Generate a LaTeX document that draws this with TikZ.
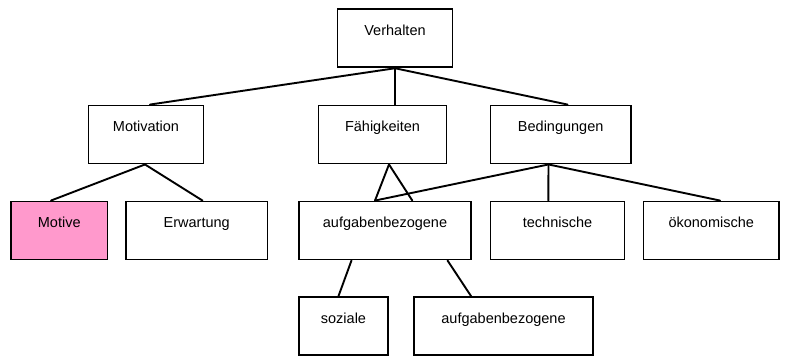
\documentclass[tikz,border=0pt]{standalone}
\usepackage{fontspec}
\setmainfont{Liberation Sans}
\definecolor{motivepink}{HTML}{FF99CC}
\begin{document}
\begin{tikzpicture}[x=1pt,y=-1pt,
  box/.style={draw=black, line width=1.9pt, fill=white, rectangle, inner sep=0pt,
    minimum height=58pt, text height=26pt, text depth=32pt,
    font=\fontsize{14.5}{18}\selectfont},
  link/.style={line width=1.9pt, line cap=round}]
\useasboundingbox (0,0) rectangle (786,359);

% top level
\node[box, minimum width=115pt] (verh) at (395,38.3) {Verhalten};

% second level
\node[box, minimum width=115pt]   (motiv) at (146,134.5)   {Motivation};
\node[box, minimum width=128pt]   (faeh)  at (382.5,134.5) {Fähigkeiten};
\node[box, minimum width=140.5pt] (bed)   at (560.7,134.5) {Bedingungen};

% third level
\node[box, fill=motivepink, minimum width=96.5pt] (motive) at (59.25,230.5)  {Motive};
\node[box, minimum width=141.5pt] (erw)  at (196.75,230.5) {Erwartung};
\node[box, minimum width=172pt]   (aufg) at (385,230.5)    {aufgabenbezogene};
\node[box, minimum width=134pt]   (tech) at (557.5,230.5)  {technische};
\node[box, minimum width=135.5pt] (oek)  at (711.25,230.5) {ökonomische};

% fourth level
\node[box, minimum width=89pt]  (soz)   at (343.5,326) {soziale};
\node[box, minimum width=179pt] (aufgb) at (503.5,326) {aufgabenbezogene};

% connectors
\draw[link] (verh.south) -- ([xshift=4pt]motiv.north);
\draw[link] (verh.south) -- ([xshift=12.5pt]faeh.north);
\draw[link] (verh.south) -- ([xshift=6.8pt]bed.north);

\draw[link] ([xshift=-1pt]motiv.south) -- ([xshift=-8.25pt]motive.north);
\draw[link] ([xshift=-1pt]motiv.south) -- ([xshift=5.75pt]erw.north);

\draw[link] ([xshift=6.5pt]faeh.south) -- ([xshift=-10pt]aufg.north);
\draw[link] ([xshift=6.5pt]faeh.south) -- ([xshift=27.3pt]aufg.north);

\draw[link] ([xshift=-12.2pt]bed.south) -- ([xshift=-10pt]aufg.north);
\draw[link] ([xshift=-12.2pt]bed.south) -- ([xshift=-9.2pt]tech.north);
\draw[link] ([xshift=-12.2pt]bed.south) -- ([xshift=8.75pt]oek.north);

\draw[link] ([xshift=-33.5pt]aufg.south) -- ([xshift=-5pt]soz.north);
\draw[link] ([xshift=62.5pt]aufg.south) -- ([xshift=-32.5pt]aufgb.north);
\end{tikzpicture}
\end{document}
